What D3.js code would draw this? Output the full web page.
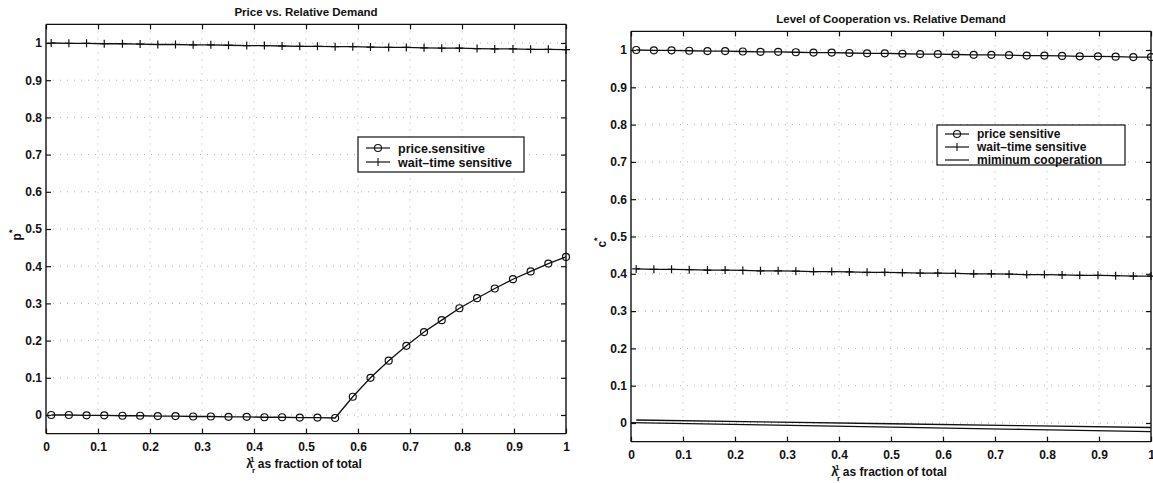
<!DOCTYPE html>
<html>
<head>
<meta charset="utf-8">
<script src="https://cdn.jsdelivr.net/npm/d3@7"></script>
<style>
  body { margin: 0; background: #fff; }
  svg { display: block; font-family: "Liberation Sans", Arial, sans-serif; }
  .tick-label { font-size: 12px; font-weight: bold; fill: #111; }
  .title { font-size: 11.5px; font-weight: bold; fill: #111; }
  .legend-text { font-weight: bold; fill: #111; }
</style>
</head>
<body>
<svg width="1153" height="483"></svg>
<script>
// sample positions (fraction of total demand)
const xVals = [0.010, 0.044, 0.078, 0.112, 0.147, 0.181, 0.215, 0.249, 0.283, 0.317,
               0.351, 0.386, 0.420, 0.454, 0.488, 0.522, 0.556, 0.590, 0.624, 0.659,
               0.693, 0.727, 0.761, 0.795, 0.829, 0.863, 0.898, 0.932, 0.966, 1.000];

// left panel: price p*
const pricePrice = [0.000, 0.000, -0.001, -0.001, -0.002, -0.002, -0.003, -0.003, -0.004, -0.004,
                    -0.005, -0.005, -0.006, -0.006, -0.007, -0.007, -0.008, 0.049, 0.100, 0.146,
                    0.186, 0.223, 0.255, 0.287, 0.314, 0.340, 0.365, 0.386, 0.407, 0.425];
const priceWait = [1.000, 0.999, 0.999, 0.998, 0.998, 0.997, 0.996, 0.996, 0.995, 0.995,
                   0.994, 0.993, 0.993, 0.992, 0.991, 0.991, 0.990, 0.990, 0.989, 0.988,
                   0.988, 0.987, 0.986, 0.986, 0.985, 0.984, 0.984, 0.983, 0.983, 0.982];

// right panel: cooperation c*
const coopPrice = [1.000, 0.999, 0.999, 0.998, 0.997, 0.997, 0.996, 0.995, 0.995, 0.994,
                   0.993, 0.993, 0.992, 0.991, 0.991, 0.990, 0.989, 0.989, 0.988, 0.987,
                   0.987, 0.986, 0.985, 0.985, 0.984, 0.983, 0.983, 0.982, 0.981, 0.981];
const coopWait = [0.413, 0.412, 0.412, 0.411, 0.410, 0.410, 0.409, 0.408, 0.408, 0.407,
                  0.406, 0.406, 0.405, 0.404, 0.404, 0.403, 0.402, 0.402, 0.401, 0.400,
                  0.400, 0.399, 0.398, 0.398, 0.397, 0.396, 0.396, 0.395, 0.394, 0.394];
const minX1 = [0.01, 0.25, 0.50, 0.75, 1.00];
const minCoop1 = [0.008, 0.003, -0.002, -0.007, -0.012];
const minX2 = [0.00, 0.25, 0.50, 0.75, 1.00];
const minCoop2 = [0.001, -0.005, -0.011, -0.017, -0.023];

const tickVals = [0, 0.1, 0.2, 0.3, 0.4, 0.5, 0.6, 0.7, 0.8, 0.9, 1];
const tickLabels = ["0", "0.1", "0.2", "0.3", "0.4", "0.5", "0.6", "0.7", "0.8", "0.9", "1"];

const svg = d3.select('svg');

/**
 * Draws one MATLAB style panel with boxed axes, inside ticks and dotted grid
 */
function drawPanel(p) {
    const x = d3.scaleLinear().domain([0, 1]).range([p.x0, p.x1]);
    const y = d3.scaleLinear().domain([0, 1]).range([p.y0, p.y1]);
    const yTop = y(1.05), yBot = y(-0.05);
    const g = svg.append('g');

    // dotted grid
    g.append('g').selectAll('line.gx')
        .data(tickVals.slice(1, -1))
        .join('line')
        .attr('x1', d => x(d)).attr('x2', d => x(d))
        .attr('y1', yTop).attr('y2', yBot)
        .attr('stroke', '#9a9a9a').attr('stroke-width', 0.8)
        .attr('stroke-dasharray', '1,6');
    g.append('g').selectAll('line.gy')
        .data(tickVals)
        .join('line')
        .attr('x1', p.x0).attr('x2', p.x1)
        .attr('y1', d => y(d)).attr('y2', d => y(d))
        .attr('stroke', '#9a9a9a').attr('stroke-width', 0.8)
        .attr('stroke-dasharray', '1,6');

    // axes with inside ticks on all four sides
    const tl = 5;
    g.append('g').attr('transform', `translate(0,${yBot})`)
        .call(d3.axisBottom(x).tickValues(tickVals).tickSize(-tl).tickFormat((d, i) => tickLabels[i]).tickPadding(9))
        .call(a => a.select('.domain').attr('d', `M${p.x0},0H${p.x1}`));
    g.append('g').attr('transform', `translate(0,${yTop})`)
        .call(d3.axisTop(x).tickValues(tickVals).tickSize(-tl).tickFormat(''))
        .call(a => a.select('.domain').attr('d', `M${p.x0},0H${p.x1}`));
    g.append('g').attr('transform', `translate(${p.x0},0)`)
        .call(d3.axisLeft(y).tickValues(tickVals).tickSize(-tl).tickFormat((d, i) => tickLabels[i]).tickPadding(4))
        .call(a => a.select('.domain').attr('d', `M0,${yTop}V${yBot}`));
    g.append('g').attr('transform', `translate(${p.x1},0)`)
        .call(d3.axisRight(y).tickValues(tickVals).tickSize(-tl).tickFormat(''))
        .call(a => a.select('.domain').attr('d', `M0,${yTop}V${yBot}`));
    g.selectAll('.domain').attr('stroke', '#111').attr('stroke-width', 1.4);
    g.selectAll('.tick line').attr('stroke', '#111').attr('stroke-width', 1.2);
    g.selectAll('.tick text').attr('class', 'tick-label').attr('font-family', null).attr('font-size', null);

    // title
    g.append('text').attr('class', 'title')
        .attr('x', (p.x0 + p.x1) / 2).attr('y', yTop - 8)
        .attr('text-anchor', 'middle').text(p.title);

    // x label: lambda_r^1 as fraction of total
    const xl = g.append('text').attr('class', 'tick-label')
        .attr('x', (p.x0 + p.x1) / 2 - 2).attr('y', yBot + 34)
        .attr('text-anchor', 'middle');
    xl.append('tspan').text('λ');
    xl.append('tspan').attr('font-size', '8px').attr('dy', 5).attr('dx', -1).text('r');
    xl.append('tspan').attr('font-size', '8px').attr('dy', -11).attr('dx', -5).text('1');
    xl.append('tspan').attr('dy', 6).text(' as fraction of total');

    // y label
    const yl = g.append('text').attr('class', 'tick-label')
        .attr('transform', `translate(${p.x0 - 25},${(yTop + yBot) / 2 + 6}) rotate(-90)`)
        .attr('text-anchor', 'middle');
    yl.append('tspan').text(p.ylabel);
    yl.append('tspan').attr('font-size', '9px').attr('dy', -6).text('*');

    const line = d3.line().x(d => x(d[0])).y(d => y(d[1]));
    const lines = g.append('g').attr('fill', 'none').attr('stroke', '#111').attr('stroke-width', 1.3);

    p.series.forEach(s => {
        const pts = s.xs.map((v, i) => [v, s.ys[i]]);
        lines.append('path').attr('d', line(pts));
        if (s.marker === 'circle') {
            g.append('g').selectAll('circle')
                .data(pts).join('circle')
                .attr('cx', d => x(d[0])).attr('cy', d => y(d[1])).attr('r', 3.5)
                .attr('fill', 'none').attr('stroke', '#111').attr('stroke-width', 1.2);
        } else if (s.marker === 'plus') {
            g.append('g').selectAll('path')
                .data(pts).join('path')
                .attr('d', d => `M${x(d[0]) - 4},${y(d[1])}h8M${x(d[0])},${y(d[1]) - 4}v8`)
                .attr('stroke', '#111').attr('stroke-width', 1.2);
        }
    });

    // legend
    const L = p.legend;
    const lg = g.append('g').attr('transform', `translate(${L.x},${L.y})`);
    lg.append('rect').attr('width', L.w).attr('height', L.h)
        .attr('fill', '#fff').attr('stroke', '#111').attr('stroke-width', 1.2);
    L.items.forEach((it, i) => {
        const cy = L.first + i * L.step;
        lg.append('line').attr('x1', 8).attr('x2', 32).attr('y1', cy).attr('y2', cy)
            .attr('stroke', '#111').attr('stroke-width', 1.2);
        if (it.marker === 'circle') {
            lg.append('circle').attr('cx', 20).attr('cy', cy).attr('r', 3.5)
                .attr('fill', 'none').attr('stroke', '#111').attr('stroke-width', 1.1);
        } else if (it.marker === 'plus') {
            lg.append('path').attr('d', `M20,${cy - 4}v8`).attr('stroke', '#111').attr('stroke-width', 1.1);
        }
        lg.append('text').attr('class', 'legend-text')
            .attr('font-size', L.font + 'px')
            .attr('x', 40).attr('y', cy + L.font * 0.36).text(it.label);
    });
}

drawPanel({
    x0: 46, x1: 566, y0: 415, y1: 43,
    title: 'Price vs. Relative Demand',
    ylabel: 'p',
    series: [
        { xs: xVals, ys: pricePrice, marker: 'circle' },
        { xs: xVals, ys: priceWait, marker: 'plus' }
    ],
    legend: {
        x: 358, y: 137, w: 166, h: 35, first: 11, step: 14, font: 12.5,
        items: [
            { label: 'price.sensitive', marker: 'circle' },
            { label: 'wait–time sensitive', marker: 'plus' }
        ]
    }
});

drawPanel({
    x0: 631, x1: 1151, y0: 423, y1: 50,
    title: 'Level of Cooperation vs. Relative Demand',
    ylabel: 'c',
    series: [
        { xs: xVals, ys: coopPrice, marker: 'circle' },
        { xs: xVals, ys: coopWait, marker: 'plus' },
        { xs: minX1, ys: minCoop1, marker: 'none' },
        { xs: minX2, ys: minCoop2, marker: 'none' }
    ],
    legend: {
        x: 937, y: 125, w: 188, h: 40, first: 9, step: 13, font: 12,
        items: [
            { label: 'price sensitive', marker: 'circle' },
            { label: 'wait–time sensitive', marker: 'plus' },
            { label: 'miminum cooperation', marker: 'none' }
        ]
    }
});
</script>
</body>
</html>
